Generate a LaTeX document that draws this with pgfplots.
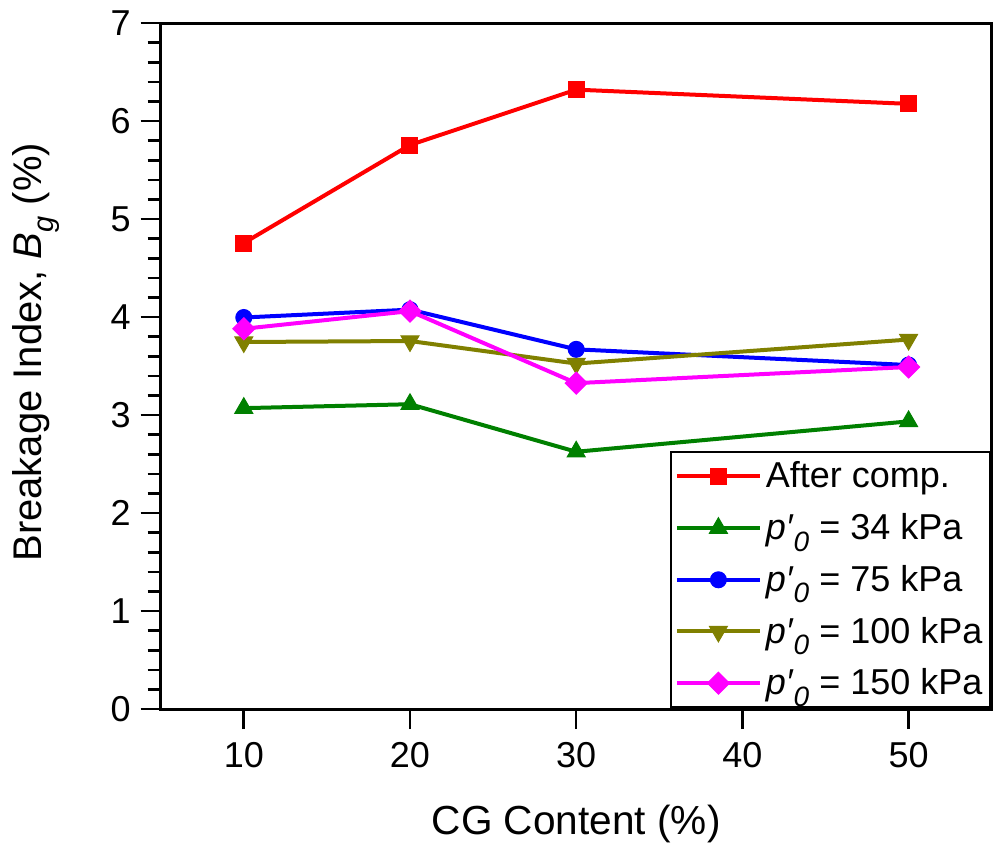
\documentclass[border=0pt]{standalone}
\usepackage{pgfplots}
\pgfplotsset{compat=1.18}
\usepackage{fontspec}
\setmainfont{Liberation Sans}
\definecolor{cRed}{RGB}{255,0,0}
\definecolor{cGreen}{RGB}{0,128,0}
\definecolor{cBlue}{RGB}{0,0,255}
\definecolor{cOlive}{RGB}{128,128,0}
\definecolor{cMag}{RGB}{255,0,255}
\newcommand{\pz}{\textit{p′}\raisebox{-0.32em}{\fontsize{14}{14}\selectfont\textit{0}}}
\begin{document}
\begin{tikzpicture}
\begin{axis}[
  scale only axis,
  width=415.5pt, height=343pt,
  xmin=5, xmax=55, ymin=0, ymax=7,
  xtick={10,20,30,40,50},
  ytick={0,1,2,3,4,5,6,7},
  minor y tick num=4,
  xtick pos=bottom, ytick pos=left,
  tick align=outside,
  major tick length=10pt,
  minor tick length=6.5pt,
  every tick/.style={black, line width=1.3pt},
  axis line style={line width=1.5pt},
  /pgf/number format/assume math mode=true,
  tick label style={font=\fontsize{18}{21}\selectfont},
  xticklabel shift=3pt,
  yticklabel shift=1.5pt,
  label style={font=\fontsize{20.3}{24}\selectfont},
  xlabel={CG Content (\%)},
  ylabel={Breakage Index, \textit{B}\raisebox{-0.3em}{\fontsize{14.5}{14.5}\selectfont\textit{g}} (\%)},
  x label style={at={(axis description cs:0.5,-0.168)}, anchor=center},
  y label style={at={(axis description cs:-0.15,0.52)}, anchor=center, font=\fontsize{20}{24}\selectfont},
  legend cell align=left,
  legend style={at={(rel axis cs:1,0)}, anchor=south east, draw=black, line width=1.3pt,
    font=\fontsize{18}{21}\selectfont, row sep=7.3pt, inner xsep=2pt, inner ysep=3pt},
  legend image code/.code={\draw[mark repeat=2,mark phase=2,#1] plot coordinates {(0pt,0pt)(20.75pt,0pt)(41.5pt,0pt)};},
  every axis plot/.append style={line width=2pt},
]
\addplot[cRed, mark=square*, mark size=4pt, mark options={solid, line width=0.5pt}]
  coordinates {(10,4.755) (20,5.755) (30,6.32) (50,6.175)};
\addlegendentry{After comp.}
\addplot[cGreen, mark=triangle*, mark size=5.2pt, mark options={solid, line width=0.5pt}]
  coordinates {(10,3.07) (20,3.11) (30,2.625) (50,2.935)};
\addlegendentry{\pz{} = 34 kPa}
\addplot[cBlue, mark=*, mark size=4pt, mark options={solid, line width=0.5pt}]
  coordinates {(10,3.995) (20,4.075) (30,3.67) (50,3.51)};
\addlegendentry{\pz{} = 75 kPa}
\addplot[cOlive, mark=triangle*, mark size=5.2pt, mark options={solid, line width=0.5pt, rotate=180}]
  coordinates {(10,3.745) (20,3.755) (30,3.525) (50,3.77)};
\addlegendentry{\pz{} = 100 kPa}
\addplot[cMag, mark=square*, mark size=3.9pt, mark options={solid, line width=0.5pt, rotate=45}]
  coordinates {(10,3.88) (20,4.06) (30,3.325) (50,3.49)};
\addlegendentry{\pz{} = 150 kPa}
\end{axis}
\pgfresetboundingbox
\useasboundingbox (-80.35pt,-69pt) rectangle (423.65pt,354.5pt);
\end{tikzpicture}
\end{document}
